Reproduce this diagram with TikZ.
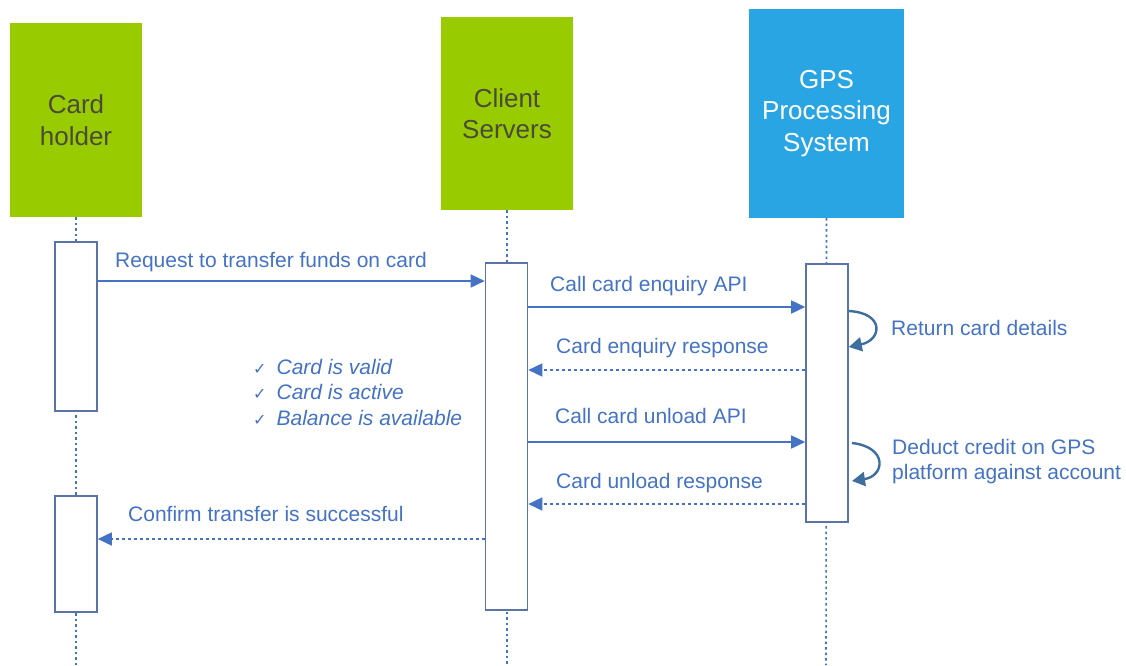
\documentclass[tikz,border=0pt]{standalone}
\usepackage{fontspec}
\setmainfont{Liberation Sans}
\newfontfamily\symfont{DejaVu Sans}
\usetikzlibrary{arrows.meta}
\definecolor{hgreen}{HTML}{99CC00}
\definecolor{hblue}{HTML}{29A5E3}
\definecolor{lblue}{HTML}{4472C4}
\definecolor{abox}{HTML}{5B74A8}
\definecolor{loopc}{HTML}{3D6E9E}
\definecolor{htext}{HTML}{4A4A3A}
\tikzset{
  head/.style={rectangle, minimum width=#1, inner sep=0pt, align=center, font=\fontsize{26}{31.5}\selectfont},
  act/.style={draw=abox, line width=1.6pt, fill=white, minimum width=42pt, inner sep=0pt},
  life/.style={lblue, line width=1.6pt, dash pattern=on 2.5pt off 3pt},
  msg/.style={lblue, line width=1.6pt, -{Triangle[length=14pt,width=13pt]}},
  ret/.style={msg, dash pattern=on 3pt off 3pt},
  lbl/.style={text=lblue, anchor=base west, inner sep=0pt, font=\fontsize{21}{25}\selectfont},
  selfloop/.style={loopc, line width=2.4pt, -{Triangle[length=13pt,width=14pt]}},
}
\begin{document}
\begin{tikzpicture}[x=1pt,y=-1pt]
\useasboundingbox (0,0) rectangle (1126,665);
% heads
\node[head=132pt, minimum height=194pt, fill=hgreen, text=htext] (ch) at (76,120) {Card\\holder};
\node[head=132pt, minimum height=193pt, fill=hgreen, text=htext] (cs) at (507,113.5) {Client\\Servers};
\node[head=155pt, minimum height=209pt, fill=hblue, text=white] (gps) at (826.5,113.5) {GPS\\Processing\\System};
% lifeline end points
\coordinate (chend) at (76,665);
\coordinate (csend) at (507,665);
\coordinate (gpsend) at (826,665);
\draw[life] (ch.south) -- (chend);
\draw[life] (cs.south) -- (csend);
\draw[life] (gps.south) -- (gpsend);
% activations
\node[act, minimum height=169pt] (cha1) at (76,326.5) {};
\node[act, minimum height=116pt] (cha2) at (76,554) {};
\node[act, minimum height=347pt] (csa) at (506.5,436.5) {};
\node[act, minimum height=258pt] (gpsa) at (827,393) {};
% messages
\draw[msg] (cha1.east |- 0,281) -- (csa.west |- 0,281);
\node[lbl] (l1) at (115,267) {Request to transfer funds on card};
\draw[msg] (csa.east |- 0,307) -- (gpsa.west |- 0,307);
\node[lbl] (l2) at (550,291) {Call card enquiry API};
\draw[ret] (gpsa.west |- 0,370) -- (csa.east |- 0,370);
\node[lbl] (l3) at (556,353) {Card enquiry response};
\draw[msg] (csa.east |- 0,442) -- (gpsa.west |- 0,442);
\node[lbl] (l4) at (555,423) {Call card unload API};
\draw[ret] (gpsa.west |- 0,504) -- (csa.east |- 0,504);
\node[lbl] (l5) at (556,488) {Card unload response};
\draw[ret] (csa.west |- 0,539) -- (cha2.east |- 0,539);
\node[lbl] (l6) at (128,521) {Confirm transfer is successful};
% self loops
\draw[selfloop] (gpsa.east |- 0,311) .. controls (885,313) and (882,340) .. (gpsa.east |- 0,347);
\node[lbl] (l7) at (891,335) {Return card details};
\draw[selfloop] (852,443) .. controls (888,447) and (885,476) .. (852,481);
\node[lbl, align=left, anchor=north west] (l8) at (892,439) {Deduct credit on GPS\\platform against account};
% checklist
\node[lbl, align=left, anchor=north west, font=\fontsize{21}{25.5}\selectfont\itshape] (chk) at (253,359)
  {{\symfont\upshape\fontsize{16}{25.5}\selectfont ✓}\hspace{10pt}Card is valid\\
   {\symfont\upshape\fontsize{16}{25.5}\selectfont ✓}\hspace{10pt}Card is active\\
   {\symfont\upshape\fontsize{16}{25.5}\selectfont ✓}\hspace{10pt}Balance is available};
\end{tikzpicture}
\end{document}
